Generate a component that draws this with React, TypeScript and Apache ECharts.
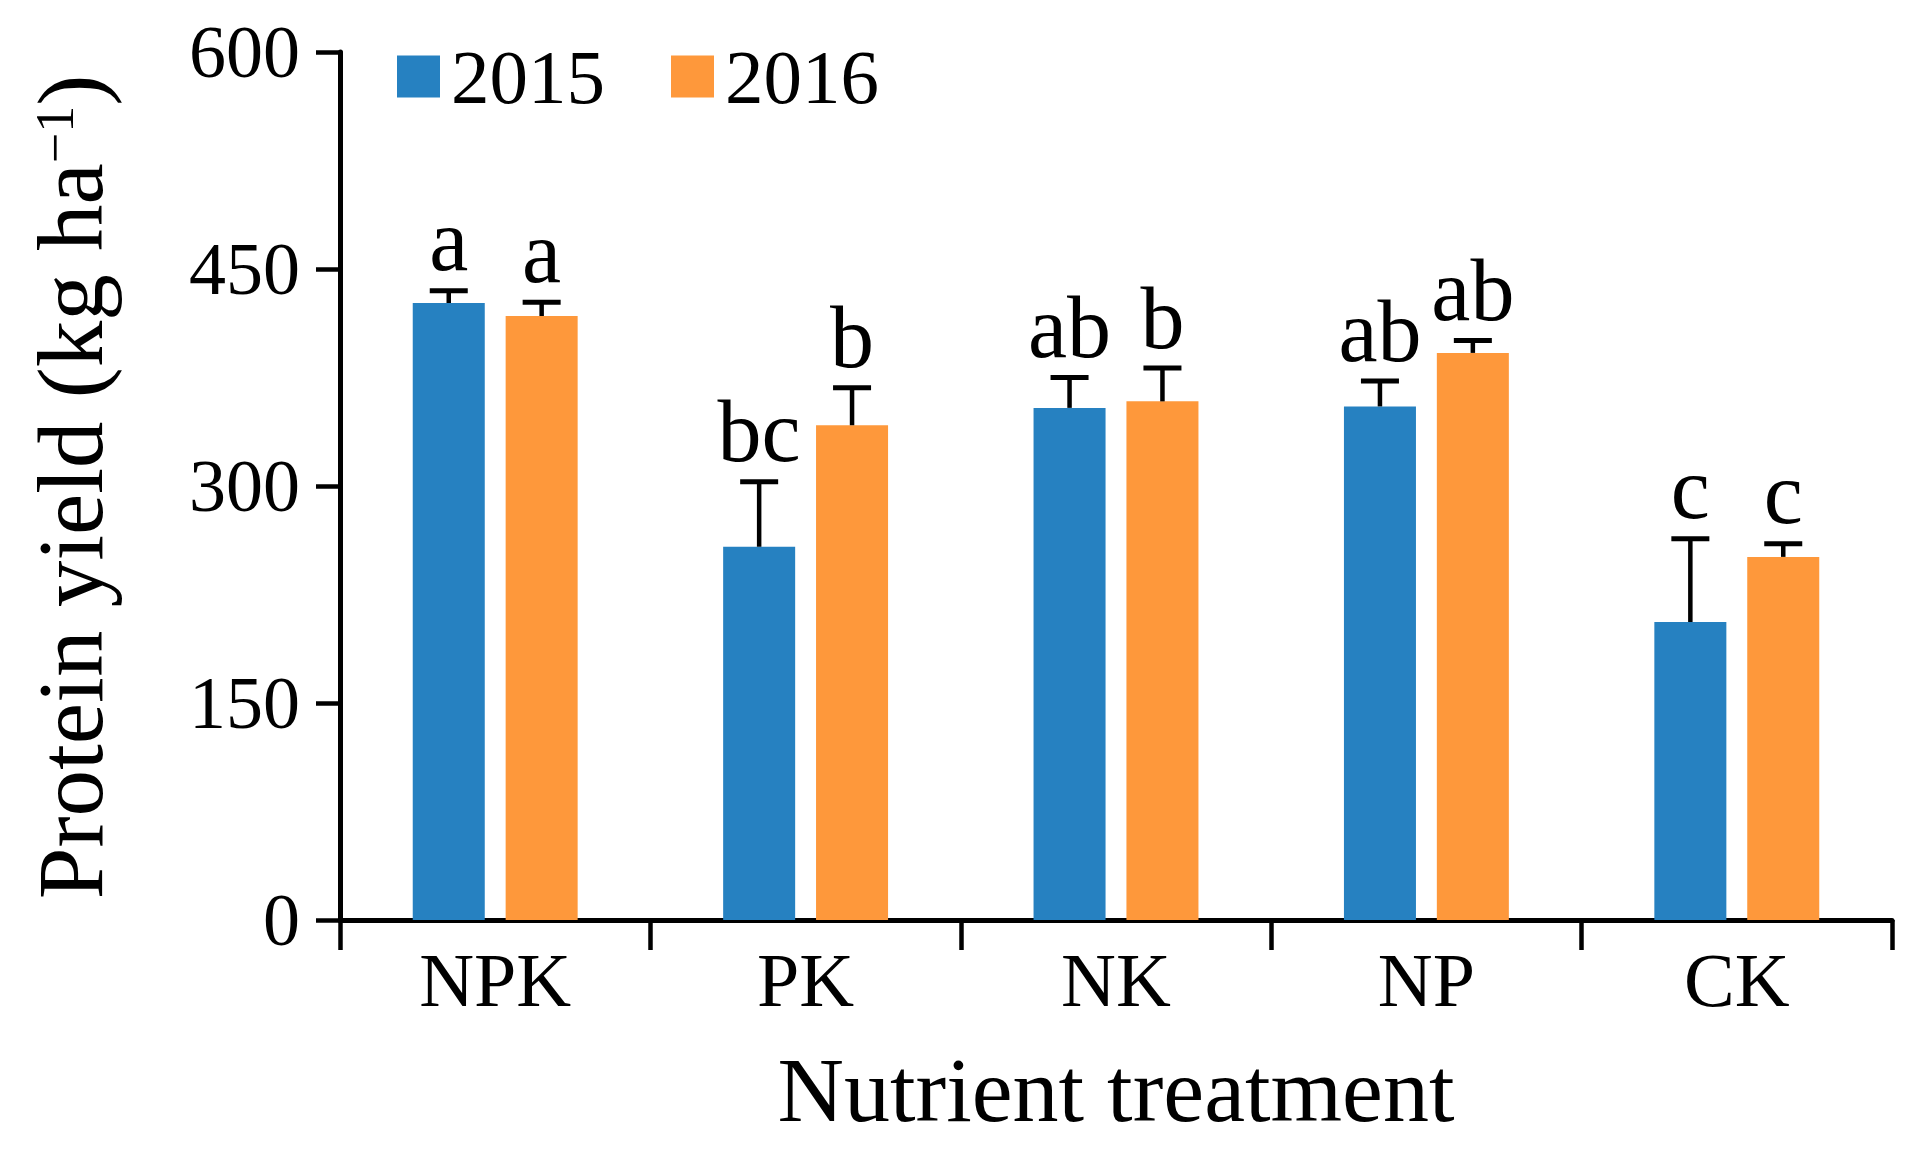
import React, { useEffect, useRef } from "react";
import * as echarts from "echarts";

const categories = ["NPK", "PK", "NK", "NP", "CK"];
const seriesNames = ["2015", "2016"];
const values2015 = [426.5, 258, 354, 355, 206];
const values2016 = [417.5, 342, 358.5, 392, 251];
const sd2015 = [8.5, 45, 21, 17.5, 57.5];
const sd2016 = [9.5, 26, 23, 8.5, 9];
const letters2015 = ["a", "bc", "ab", "ab", "c"];
const letters2016 = ["a", "b", "b", "ab", "c"];
const yTicks = [0, 150, 300, 450, 600];

const FONT = "Liberation Serif";
const BLUE = "#2681c1";
const ORANGE = "#fe983b";
const BAR_FRAC = 0.232;
const GAP_FRAC = 0.29;
const OFFSET_FRAC = (BAR_FRAC + BAR_FRAC * GAP_FRAC) / 2;

export default function App() {
  const ref = useRef<HTMLDivElement>(null);
  useEffect(() => {
    if (!ref.current) return;
    const chart = echarts.init(ref.current, null, { renderer: "svg" });

    const errData: any[] = [];
    categories.forEach((_, i) => {
      errData.push([i, values2015[i], sd2015[i], -1, letters2015[i]]);
      errData.push([i, values2016[i], sd2016[i], 1, letters2016[i]]);
    });

    const option: any = {
      animation: false,
      backgroundColor: "#ffffff",
      grid: { left: 340, right: 32, top: 52, bottom: 237, containLabel: false },
      legend: {
        left: 392,
        top: 33,
        itemWidth: 43,
        itemHeight: 42,
        itemGap: 66,
        icon: "rect",
        data: seriesNames,
        textStyle: {
          fontFamily: FONT,
          fontSize: 77,
          color: "#000",
          lineHeight: 42,
          padding: [0, 0, 0, 6],
        },
      },
      xAxis: {
        type: "category",
        data: categories,
        axisLine: { lineStyle: { color: "#000", width: 5 } },
        axisTick: { show: true, length: 30, lineStyle: { color: "#000", width: 4.5 } },
        axisLabel: { fontFamily: FONT, fontSize: 76, color: "#000", margin: 22 },
        name: "Nutrient treatment",
        nameLocation: "middle",
        nameGap: 124,
        nameTextStyle: { fontFamily: FONT, fontSize: 92, color: "#000" },
      },
      yAxis: {
        type: "value",
        min: yTicks[0],
        max: yTicks[yTicks.length - 1],
        interval: yTicks[1] - yTicks[0],
        axisLine: { show: true, lineStyle: { color: "#000", width: 5 } },
        axisTick: { show: true, length: 24, lineStyle: { color: "#000", width: 4.5 } },
        axisLabel: { fontFamily: FONT, fontSize: 74, color: "#000", margin: 40 },
        splitLine: { show: false },
      },
      graphic: [
        {
          type: "text",
          x: 70,
          y: 487,
          rotation: Math.PI / 2,
          style: {
            text: "{a|Protein yield (kg ha}{s|−1}{a|)}",
            align: "center",
            verticalAlign: "middle",
            fill: "#000",
            rich: {
              a: { fontFamily: FONT, fontSize: 93, fill: "#000" },
              s: { fontFamily: FONT, fontSize: 54, fill: "#000", verticalAlign: "top", padding: [4, 0, 0, 0] },
            },
          },
        },
      ],
      series: [
        {
          name: seriesNames[0],
          type: "bar",
          data: values2015,
          barWidth: (BAR_FRAC * 100).toFixed(1) + "%",
          barGap: GAP_FRAC * 100 + "%",
          itemStyle: { color: BLUE },
        },
        {
          name: seriesNames[1],
          type: "bar",
          data: values2016,
          barWidth: (BAR_FRAC * 100).toFixed(1) + "%",
          barGap: GAP_FRAC * 100 + "%",
          itemStyle: { color: ORANGE },
        },
        {
          type: "custom",
          z: 10,
          silent: true,
          data: errData,
          encode: { x: 0, y: 1 },
          renderItem: (params: any, api: any) => {
            const ci = api.value(0);
            const mean = api.value(1);
            const sd = api.value(2);
            const sign = api.value(3);
            const letter = errData[params.dataIndex][4];
            const band = api.size([1, 0])[0];
            const cx = api.coord([ci, 0])[0] + sign * band * OFFSET_FRAC;
            const yBase = api.coord([ci, mean])[1];
            const yTop = api.coord([ci, mean + sd])[1];
            const half = 19;
            return {
              type: "group",
              children: [
                {
                  type: "line",
                  shape: { x1: cx, y1: yBase, x2: cx, y2: yTop },
                  style: { stroke: "#000", lineWidth: 4.5 },
                },
                {
                  type: "line",
                  shape: { x1: cx - half, y1: yTop, x2: cx + half, y2: yTop },
                  style: { stroke: "#000", lineWidth: 5 },
                },
                {
                  type: "text",
                  x: cx,
                  y: yTop - 6,
                  style: {
                    text: letter,
                    fontFamily: FONT,
                    fontSize: 88,
                    fill: "#000",
                    align: "center",
                    verticalAlign: "bottom",
                  },
                },
              ],
            };
          },
        },
      ],
    };
    chart.setOption(option);
    return () => chart.dispose();
  }, []);
  return (
    <div
      ref={ref}
      style={{ position: "fixed", left: 0, top: 0, width: 1924, height: 1157, background: "#fff" }}
    />
  );
}
